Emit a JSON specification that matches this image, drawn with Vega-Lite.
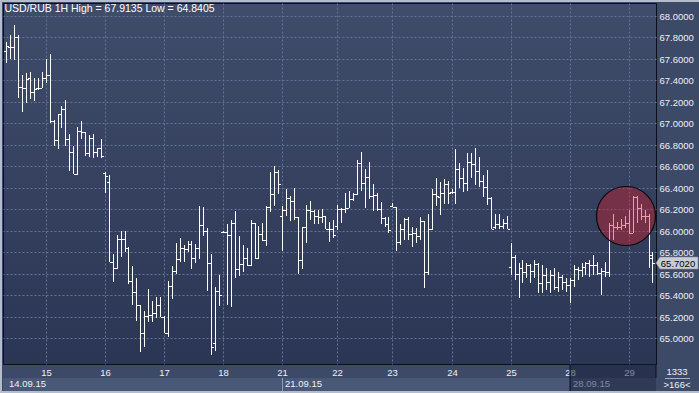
{
  "$schema": "https://vega.github.io/schema/vega-lite/v6.json",
  "width": 653,
  "height": 361,
  "autosize": {"type": "none"},
  "padding": {"left": 3, "top": 3, "right": 43, "bottom": 29},
  "background": "#3c4967",
  "view": {
    "fill": {"gradient": "linear", "x1": 0, "y1": 0, "x2": 0, "y2": 1, "stops": [{"offset": 0, "color": "#3f4c6a"}, {"offset": 1, "color": "#2b3654"}]},
    "stroke": "#0b0f1a",
    "strokeWidth": 1
  },
  "config": {
    "font": "Liberation Sans",
    "text": {"font": "Liberation Sans", "fontSize": 9},
    "axis": {"title": null}
  },
  "data": {
    "values": [
      {"i":0,"o":67.674,"h":67.758,"l":67.559,"c":67.72},
      {"i":1,"o":67.714,"h":67.82,"l":67.602,"c":67.714},
      {"i":2,"o":67.708,"h":67.9135,"l":67.59,"c":67.807},
      {"i":3,"o":67.807,"h":67.82,"l":67.239,"c":67.342},
      {"i":4,"o":67.342,"h":67.45,"l":67.109,"c":67.326},
      {"i":5,"o":67.326,"h":67.472,"l":67.186,"c":67.41},
      {"i":6,"o":67.419,"h":67.475,"l":67.23,"c":67.295},
      {"i":7,"o":67.295,"h":67.419,"l":67.211,"c":67.317},
      {"i":8,"o":67.326,"h":67.419,"l":67.311,"c":67.332},
      {"i":9,"o":67.332,"h":67.481,"l":67.326,"c":67.419},
      {"i":10,"o":67.419,"h":67.596,"l":67.373,"c":67.45},
      {"i":11,"o":67.45,"h":67.646,"l":67.0,"c":67.022},
      {"i":12,"o":67.022,"h":67.03,"l":66.789,"c":66.845},
      {"i":13,"o":66.845,"h":67.084,"l":66.758,"c":67.084},
      {"i":14,"o":67.084,"h":67.161,"l":66.96,"c":67.13},
      {"i":15,"o":67.13,"h":67.217,"l":66.792,"c":66.854},
      {"i":16,"o":66.854,"h":66.898,"l":66.559,"c":66.73},
      {"i":17,"o":66.73,"h":66.789,"l":66.525,"c":66.528},
      {"i":18,"o":66.528,"h":66.969,"l":66.52,"c":66.929},
      {"i":19,"o":66.929,"h":67.022,"l":66.851,"c":66.916},
      {"i":20,"o":66.916,"h":66.922,"l":66.699,"c":66.72},
      {"i":21,"o":66.72,"h":66.891,"l":66.689,"c":66.86},
      {"i":22,"o":66.86,"h":66.898,"l":66.68,"c":66.73},
      {"i":23,"o":66.73,"h":66.773,"l":66.689,"c":66.767},
      {"i":24,"o":66.767,"h":66.854,"l":66.68,"c":66.696},
      {"i":25,"o":66.534,"h":66.55,"l":66.348,"c":66.512},
      {"i":26,"o":66.45,"h":66.519,"l":65.711,"c":65.711},
      {"i":27,"o":65.711,"h":65.78,"l":65.525,"c":65.649},
      {"i":28,"o":65.649,"h":65.96,"l":65.64,"c":65.919},
      {"i":29,"o":65.919,"h":65.997,"l":65.752,"c":65.919},
      {"i":30,"o":65.919,"h":65.997,"l":65.804,"c":65.842},
      {"i":31,"o":65.842,"h":65.851,"l":65.5,"c":65.531},
      {"i":32,"o":65.531,"h":65.671,"l":65.307,"c":65.425},
      {"i":33,"o":65.425,"h":65.562,"l":65.158,"c":65.307},
      {"i":34,"o":65.307,"h":65.31,"l":64.873,"c":65.043},
      {"i":35,"o":65.043,"h":65.252,"l":64.919,"c":65.205},
      {"i":36,"o":65.205,"h":65.457,"l":65.146,"c":65.214},
      {"i":37,"o":65.214,"h":65.345,"l":65.152,"c":65.236},
      {"i":38,"o":65.236,"h":65.385,"l":65.183,"c":65.307},
      {"i":39,"o":65.307,"h":65.385,"l":65.199,"c":65.199},
      {"i":40,"o":65.199,"h":65.205,"l":65.043,"c":65.05},
      {"i":41,"o":65.05,"h":65.531,"l":65.012,"c":65.488},
      {"i":42,"o":65.488,"h":65.671,"l":65.36,"c":65.624},
      {"i":43,"o":65.624,"h":65.888,"l":65.593,"c":65.736},
      {"i":44,"o":65.736,"h":65.935,"l":65.711,"c":65.835},
      {"i":45,"o":65.835,"h":65.866,"l":65.711,"c":65.826},
      {"i":46,"o":65.826,"h":65.904,"l":65.804,"c":65.873},
      {"i":47,"o":65.873,"h":65.904,"l":65.64,"c":65.742},
      {"i":48,"o":65.742,"h":65.873,"l":65.696,"c":65.835},
      {"i":49,"o":65.835,"h":66.23,"l":65.736,"c":66.053},
      {"i":50,"o":66.053,"h":66.217,"l":65.953,"c":65.997},
      {"i":51,"o":65.997,"h":66.022,"l":65.441,"c":65.696},
      {"i":52,"o":65.696,"h":65.78,"l":64.8405,"c":64.913},
      {"i":53,"o":64.95,"h":65.478,"l":64.882,"c":65.438},
      {"i":54,"o":65.438,"h":65.587,"l":65.301,"c":65.401},
      {"i":55,"o":65.99,"h":66.0,"l":65.975,"c":65.985},
      {"i":56,"o":65.985,"h":66.059,"l":65.31,"c":65.96},
      {"i":57,"o":65.96,"h":66.099,"l":65.29,"c":66.069},
      {"i":58,"o":66.069,"h":66.183,"l":65.56,"c":65.64},
      {"i":59,"o":65.64,"h":65.95,"l":65.578,"c":65.686},
      {"i":60,"o":65.686,"h":65.866,"l":65.618,"c":65.742},
      {"i":61,"o":65.742,"h":65.835,"l":65.671,"c":65.68},
      {"i":62,"o":65.68,"h":66.099,"l":65.675,"c":66.068},
      {"i":63,"o":66.068,"h":66.075,"l":65.733,"c":65.742},
      {"i":64,"o":65.742,"h":66.043,"l":65.733,"c":65.966},
      {"i":65,"o":65.966,"h":66.068,"l":65.904,"c":65.913},
      {"i":66,"o":65.913,"h":66.23,"l":65.857,"c":66.224},
      {"i":67,"o":66.224,"h":66.547,"l":66.177,"c":66.339},
      {"i":68,"o":66.339,"h":66.602,"l":66.23,"c":66.55},
      {"i":69,"o":66.55,"h":66.565,"l":66.342,"c":66.432},
      {"i":70,"o":66.137,"h":66.23,"l":65.814,"c":66.193},
      {"i":71,"o":66.193,"h":66.385,"l":66.137,"c":66.301},
      {"i":72,"o":66.301,"h":66.323,"l":66.093,"c":66.276},
      {"i":73,"o":66.276,"h":66.394,"l":66.099,"c":66.124},
      {"i":74,"o":66.124,"h":66.13,"l":65.596,"c":65.724},
      {"i":75,"o":65.724,"h":66.037,"l":65.64,"c":66.031},
      {"i":76,"o":66.031,"h":66.239,"l":65.882,"c":66.19},
      {"i":77,"o":66.19,"h":66.276,"l":66.099,"c":66.183},
      {"i":78,"o":66.183,"h":66.193,"l":66.059,"c":66.14},
      {"i":79,"o":66.14,"h":66.193,"l":66.059,"c":66.13},
      {"i":80,"o":66.13,"h":66.202,"l":66.068,"c":66.137},
      {"i":81,"o":66.137,"h":66.14,"l":66.012,"c":66.019},
      {"i":82,"o":66.019,"h":66.084,"l":65.898,"c":66.012},
      {"i":83,"o":66.012,"h":66.099,"l":65.929,"c":65.957},
      {"i":84,"o":66.047,"h":66.239,"l":66.006,"c":66.202},
      {"i":85,"o":66.202,"h":66.208,"l":66.075,"c":66.199},
      {"i":86,"o":66.199,"h":66.354,"l":66.168,"c":66.214},
      {"i":87,"o":66.214,"h":66.37,"l":66.21,"c":66.292},
      {"i":88,"o":66.292,"h":66.354,"l":66.28,"c":66.339},
      {"i":89,"o":66.339,"h":66.658,"l":66.333,"c":66.633},
      {"i":90,"o":66.633,"h":66.73,"l":66.373,"c":66.441},
      {"i":91,"o":66.441,"h":66.571,"l":66.214,"c":66.503},
      {"i":92,"o":66.503,"h":66.637,"l":66.292,"c":66.323},
      {"i":93,"o":66.323,"h":66.432,"l":66.183,"c":66.329},
      {"i":94,"o":66.329,"h":66.354,"l":66.183,"c":66.205},
      {"i":95,"o":66.205,"h":66.271,"l":66.062,"c":66.115},
      {"i":96,"o":66.115,"h":66.13,"l":66.037,"c":66.062},
      {"i":97,"o":66.062,"h":66.124,"l":65.981,"c":66.006},
      {"i":98,"o":66.23,"h":66.255,"l":66.217,"c":66.224},
      {"i":99,"o":66.217,"h":66.224,"l":65.814,"c":65.891},
      {"i":100,"o":65.891,"h":66.059,"l":65.866,"c":66.012},
      {"i":101,"o":66.012,"h":66.115,"l":65.913,"c":66.106},
      {"i":102,"o":66.106,"h":66.124,"l":65.913,"c":65.966},
      {"i":103,"o":65.966,"h":66.037,"l":65.851,"c":65.975},
      {"i":104,"o":65.975,"h":66.028,"l":65.882,"c":65.95},
      {"i":105,"o":65.95,"h":66.124,"l":65.913,"c":66.09},
      {"i":106,"o":66.09,"h":66.093,"l":65.466,"c":65.612},
      {"i":107,"o":65.612,"h":66.155,"l":65.587,"c":66.012},
      {"i":108,"o":66.012,"h":66.385,"l":66.006,"c":66.342},
      {"i":109,"o":66.342,"h":66.488,"l":66.23,"c":66.323},
      {"i":110,"o":66.317,"h":66.457,"l":66.146,"c":66.348},
      {"i":111,"o":66.348,"h":66.478,"l":66.245,"c":66.435},
      {"i":112,"o":66.435,"h":66.463,"l":66.252,"c":66.348},
      {"i":113,"o":66.357,"h":66.388,"l":66.345,"c":66.36},
      {"i":114,"o":66.36,"h":66.758,"l":66.245,"c":66.571},
      {"i":115,"o":66.571,"h":66.627,"l":66.401,"c":66.494},
      {"i":116,"o":66.494,"h":66.581,"l":66.363,"c":66.447},
      {"i":117,"o":66.447,"h":66.721,"l":66.373,"c":66.643},
      {"i":118,"o":66.643,"h":66.727,"l":66.488,"c":66.618},
      {"i":119,"o":66.618,"h":66.767,"l":66.426,"c":66.556},
      {"i":120,"o":66.556,"h":66.689,"l":66.41,"c":66.463},
      {"i":121,"o":66.463,"h":66.519,"l":66.317,"c":66.41},
      {"i":122,"o":66.41,"h":66.565,"l":66.239,"c":66.307},
      {"i":123,"o":66.307,"h":66.31,"l":66.012,"c":66.016},
      {"i":124,"o":66.031,"h":66.152,"l":66.012,"c":66.062},
      {"i":125,"o":66.062,"h":66.152,"l":66.012,"c":66.047},
      {"i":126,"o":66.047,"h":66.106,"l":66.019,"c":66.068},
      {"i":127,"o":66.068,"h":66.137,"l":66.019,"c":66.019},
      {"i":128,"o":65.664,"h":65.888,"l":65.587,"c":65.757},
      {"i":129,"o":65.757,"h":65.77,"l":65.54,"c":65.6},
      {"i":130,"o":65.6,"h":65.696,"l":65.376,"c":65.649},
      {"i":131,"o":65.649,"h":65.727,"l":65.509,"c":65.618},
      {"i":132,"o":65.618,"h":65.696,"l":65.556,"c":65.68},
      {"i":133,"o":65.68,"h":65.685,"l":65.509,"c":65.624},
      {"i":134,"o":65.624,"h":65.727,"l":65.556,"c":65.689},
      {"i":135,"o":65.689,"h":65.696,"l":65.422,"c":65.509},
      {"i":136,"o":65.509,"h":65.68,"l":65.416,"c":65.587},
      {"i":137,"o":65.587,"h":65.649,"l":65.447,"c":65.525},
      {"i":138,"o":65.525,"h":65.634,"l":65.416,"c":65.587},
      {"i":139,"o":65.587,"h":65.649,"l":65.447,"c":65.478},
      {"i":140,"o":65.478,"h":65.618,"l":65.431,"c":65.571},
      {"i":141,"o":65.571,"h":65.587,"l":65.447,"c":65.525},
      {"i":142,"o":65.525,"h":65.556,"l":65.431,"c":65.494},
      {"i":143,"o":65.494,"h":65.556,"l":65.323,"c":65.54},
      {"i":144,"o":65.54,"h":65.68,"l":65.478,"c":65.64},
      {"i":145,"o":65.64,"h":65.665,"l":65.54,"c":65.634},
      {"i":146,"o":65.634,"h":65.696,"l":65.571,"c":65.665},
      {"i":147,"o":65.665,"h":65.711,"l":65.587,"c":65.696},
      {"i":148,"o":65.696,"h":65.727,"l":65.571,"c":65.68},
      {"i":149,"o":65.68,"h":65.773,"l":65.587,"c":65.68},
      {"i":150,"o":65.68,"h":65.711,"l":65.587,"c":65.603},
      {"i":151,"o":65.603,"h":65.649,"l":65.401,"c":65.624},
      {"i":152,"o":65.624,"h":65.711,"l":65.571,"c":65.618},
      {"i":153,"o":65.618,"h":66.068,"l":65.571,"c":66.053},
      {"i":154,"o":66.053,"h":66.155,"l":65.913,"c":66.037},
      {"i":155,"o":66.037,"h":66.084,"l":66.003,"c":66.037},
      {"i":156,"o":66.037,"h":66.109,"l":66.003,"c":66.053},
      {"i":157,"o":66.053,"h":66.137,"l":66.022,"c":66.075},
      {"i":158,"o":66.075,"h":66.193,"l":65.969,"c":65.981},
      {"i":159,"o":65.981,"h":66.323,"l":65.975,"c":66.311},
      {"i":160,"o":66.311,"h":66.323,"l":66.068,"c":66.208},
      {"i":161,"o":66.208,"h":66.252,"l":66.099,"c":66.137},
      {"i":162,"o":66.137,"h":66.193,"l":66.068,"c":66.137},
      {"i":163,"o":66.137,"h":66.155,"l":65.652,"c":65.773},
      {"i":164,"o":65.745,"h":65.801,"l":65.512,"c":65.702}
    ]
  },
  "layer": [
    {
      "mark": {"type": "rule", "color": "#ffffff", "strokeWidth": 1, "xOffset": 0.5},
      "encoding": {
        "x": {
          "field": "i", "type": "quantitative", "title": null,
          "scale": {"domain": [-0.838, 164.898], "nice": false, "zero": false, "round": true},
          "axis": {
            "orient": "bottom",
            "values": [10, 25, 40, 55, 70, 84, 98, 113, 128, 143, 158],
            "tickCount": 40,
            "labelExpr": "['15','16','17','18','21','22','23','24','25','28','29'][indexof([10,25,40,55,70,84,98,113,128,143,158], datum.value)]",
            "grid": true, "gridColor": "#62749a", "gridDash": [2, 2], "gridWidth": 1,
            "ticks": false, "domain": false,
            "labelColor": "#eef1f6", "labelFont": "Liberation Sans", "labelFontSize": 9.5,
            "labelPadding": 3, "labelFlush": false, "labelOverlap": false
          }
        },
        "y": {
          "field": "l", "type": "quantitative", "title": null,
          "scale": {"domain": [64.758, 68.121], "nice": false, "zero": false, "round": true},
          "axis": {
            "orient": "right",
            "values": [65, 65.2, 65.4, 65.6, 65.8, 66, 66.2, 66.4, 66.6, 66.8, 67, 67.2, 67.4, 67.6, 67.8, 68],
            "tickCount": 40,
            "format": ".4f",
            "grid": true, "gridColor": "#62749a", "gridDash": [2, 2], "gridWidth": 1,
            "ticks": false, "domain": false,
            "labelColor": "#eef1f6", "labelFont": "Liberation Sans", "labelFontSize": 9.5,
            "labelPadding": 3, "labelFlush": false, "labelOverlap": false
          }
        },
        "y2": {"field": "h"}
      }
    },
    {
      "mark": {"type": "rule", "color": "#ffffff", "strokeWidth": 1, "xOffset": -2, "x2Offset": 0, "yOffset": 0.5},
      "encoding": {
        "x": {"field": "i", "type": "quantitative"},
        "x2": {"field": "i"},
        "y": {"field": "o", "type": "quantitative"}
      }
    },
    {
      "mark": {"type": "rule", "color": "#ffffff", "strokeWidth": 1, "xOffset": 1, "x2Offset": 3, "yOffset": 0.5},
      "encoding": {
        "x": {"field": "i", "type": "quantitative"},
        "x2": {"field": "i"},
        "y": {"field": "c", "type": "quantitative"}
      }
    },
    {
      "data": {"values": [{"cx": 157.3, "cy": 66.141}]},
      "mark": {"type": "point", "shape": "circle", "filled": true, "size": 3481, "fill": "#d01c28", "fillOpacity": 0.42, "stroke": "#000000", "strokeWidth": 1.2, "strokeOpacity": 0.9, "opacity": 1},
      "encoding": {
        "x": {"field": "cx", "type": "quantitative"},
        "y": {"field": "cy", "type": "quantitative"}
      }
    },
    {
      "transform": [{"filter": "datum.i == 164"}],
      "mark": {"type": "point", "shape": "M-1,0L-0.81,-0.29L1,-0.29L1,0.29L-0.81,0.29Z", "filled": true, "size": 1764, "fill": "#c8ccd4", "stroke": "#7d8498", "strokeWidth": 0.6, "opacity": 1, "xOffset": 21, "clip": false},
      "encoding": {
        "x": {"datum": 164.898, "type": "quantitative"},
        "y": {"field": "c", "type": "quantitative"}
      }
    },
    {
      "transform": [{"filter": "datum.i == 164"}],
      "mark": {"type": "text", "align": "center", "baseline": "middle", "color": "#000000", "fontSize": 9.5, "xOffset": 22, "yOffset": 0.5, "clip": false},
      "encoding": {
        "x": {"datum": 164.898, "type": "quantitative"},
        "y": {"field": "c", "type": "quantitative"},
        "text": {"field": "c", "format": ".4f"}
      }
    },
    {
      "data": {"values": [{"t": "USD/RUB 1H High = 67.9135 Low = 64.8405"}]},
      "mark": {"type": "text", "align": "left", "baseline": "middle", "color": "#ffffff", "fontSize": 10.5, "xOffset": 1.5, "yOffset": 6, "clip": false},
      "encoding": {
        "x": {"datum": -0.838, "type": "quantitative"},
        "y": {"datum": 68.121, "type": "quantitative"},
        "text": {"field": "t"}
      }
    },
    {
      "data": {"values": [{"a": -0.838, "b": 164.898, "y1": 64.627, "y2": 64.506}]},
      "mark": {"type": "rect", "fill": "#4a5878", "clip": false},
      "encoding": {
        "x": {"field": "a", "type": "quantitative"},
        "x2": {"field": "b"},
        "y": {"field": "y1", "type": "quantitative"},
        "y2": {"field": "y2"}
      }
    },
    {
      "data": {"values": [{"d": 70, "y1": 64.627, "y2": 64.506}]},
      "mark": {"type": "rule", "color": "#8d9bb8", "strokeWidth": 1, "xOffset": 0.5, "clip": false},
      "encoding": {
        "x": {"field": "d", "type": "quantitative"},
        "y": {"field": "y1", "type": "quantitative"},
        "y2": {"field": "y2"}
      }
    },
    {
      "data": {"values": [{"d": 0, "label": "14.09.15"}, {"d": 70, "label": "21.09.15"}, {"d": 143, "label": "28.09.15"}]},
      "mark": {"type": "text", "align": "left", "baseline": "middle", "color": "#eef1f6", "fontSize": 9.5, "xOffset": 3, "clip": false},
      "encoding": {
        "x": {"field": "d", "type": "quantitative"},
        "y": {"datum": 64.574, "type": "quantitative"},
        "text": {"field": "label"}
      }
    },
    {
      "data": {"values": [{"a": 143, "b": 164.898, "y1": 64.757, "y2": 64.506}]},
      "mark": {"type": "rect", "fill": "#141c36", "opacity": 0.5, "clip": false},
      "encoding": {
        "x": {"field": "a", "type": "quantitative"},
        "x2": {"field": "b"},
        "y": {"field": "y1", "type": "quantitative"},
        "y2": {"field": "y2"}
      }
    },
    {
      "data": {"values": [{"d": 143, "y1": 64.757, "y2": 64.506}, {"d": 164.898, "y1": 64.757, "y2": 64.627}]},
      "mark": {"type": "rule", "color": "#0b0f1a", "strokeWidth": 1, "clip": false},
      "encoding": {
        "x": {"field": "d", "type": "quantitative"},
        "y": {"field": "y1", "type": "quantitative"},
        "y2": {"field": "y2"}
      }
    },
    {
      "data": {"values": [{"t": "1333", "v": 64.688}, {"t": ">166<", "v": 64.567}]},
      "mark": {"type": "text", "align": "center", "baseline": "middle", "color": "#eef1f6", "fontSize": 9.5, "xOffset": 21, "clip": false},
      "encoding": {
        "x": {"datum": 164.898, "type": "quantitative"},
        "y": {"field": "v", "type": "quantitative"},
        "text": {"field": "t"}
      }
    },
    {
      "data": {"values": [{"v": 64.627}]},
      "mark": {"type": "rule", "color": "#a9b1c2", "strokeWidth": 1, "xOffset": 9, "x2Offset": 34, "yOffset": 0.5, "clip": false},
      "encoding": {
        "x": {"datum": 164.898, "type": "quantitative"},
        "x2": {"datum": 164.898},
        "y": {"field": "v", "type": "quantitative"}
      }
    },
    {
      "data": {"values": [{"v": 68.121}]},
      "mark": {"type": "rule", "color": "#b4bdcc", "strokeWidth": 2, "xOffset": -3, "x2Offset": 43, "yOffset": -2, "clip": false},
      "encoding": {
        "x": {"datum": -0.838, "type": "quantitative"},
        "x2": {"datum": 164.898},
        "y": {"field": "v", "type": "quantitative"}
      }
    },
    {
      "data": {"values": [{"v": 64.758}]},
      "mark": {"type": "rule", "color": "#b4bdcc", "strokeWidth": 2, "xOffset": -3, "x2Offset": 43, "yOffset": 28, "clip": false},
      "encoding": {
        "x": {"datum": -0.838, "type": "quantitative"},
        "x2": {"datum": 164.898},
        "y": {"field": "v", "type": "quantitative"}
      }
    },
    {
      "data": {"values": [{"a": 68.121, "b": 64.758}]},
      "mark": {"type": "rule", "color": "#b4bdcc", "strokeWidth": 2, "xOffset": -2, "yOffset": -3, "y2Offset": 29, "clip": false},
      "encoding": {
        "x": {"datum": -0.838, "type": "quantitative"},
        "y": {"field": "a", "type": "quantitative"},
        "y2": {"field": "b"}
      }
    }
  ]
}
